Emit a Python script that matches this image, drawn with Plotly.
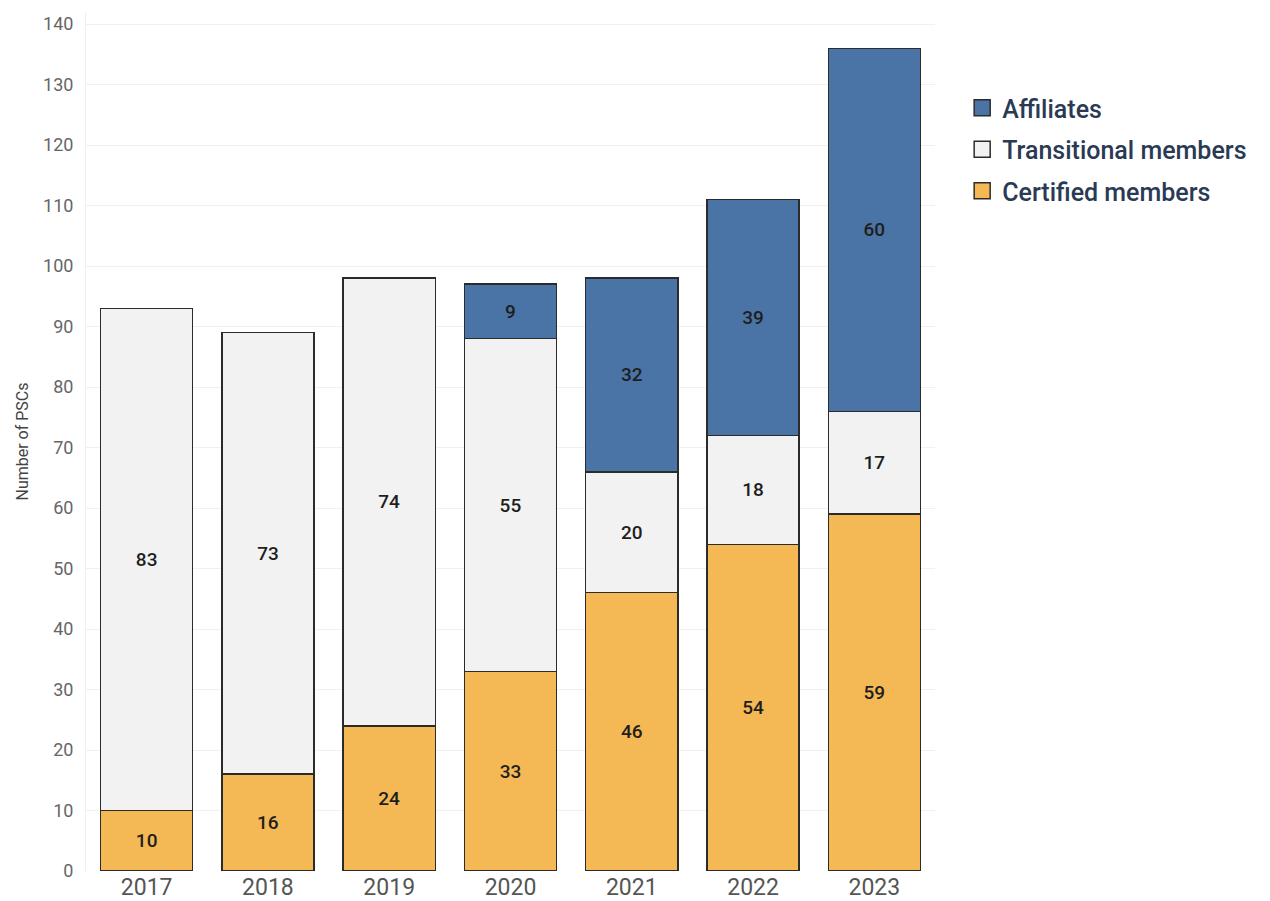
import plotly.graph_objects as go

years = ["2017", "2018", "2019", "2020", "2021", "2022", "2023"]
certified = [10, 16, 24, 33, 46, 54, 59]
transitional = [83, 73, 74, 55, 20, 18, 17]
affiliates = [0, 0, 0, 9, 32, 39, 60]
y_ticks = list(range(0, 141, 10))

FONT = "Roboto"
EDGE = "#2b2b2b"
series = [
    ("Certified members", certified, "#f4b955"),
    ("Transitional members", transitional, "#f2f2f2"),
    ("Affiliates", affiliates, "#4a74a5"),
]

fig = go.Figure()
for name, vals, color in series:
    fig.add_trace(go.Bar(
        x=years, y=vals, name=name, showlegend=False,
        marker=dict(color=color, line=dict(color=EDGE, width=1.5)),
        text=[str(v) if v else "" for v in vals],
        textposition="inside", insidetextanchor="middle", textangle=0,
        textfont=dict(family=FONT, size=19, color="#1e1e1e", weight=500),
        constraintext="none",
    ))
# legend entries with larger square swatches (top-down order)
for name, vals, color in reversed(series):
    fig.add_trace(go.Scatter(
        x=[None], y=[None], mode="markers", name=name, legendgroup=name,
        marker=dict(symbol="square", size=24, color=color, line=dict(color=EDGE, width=1.5)),
        showlegend=True,
    ))

fig.update_layout(
    barmode="stack", bargap=0.24,
    width=1262, height=893,
    paper_bgcolor="white", plot_bgcolor="white",
    margin=dict(l=78, r=335, t=4, b=30),
    font=dict(family=FONT, color="#555555"),
    legend=dict(
        x=1.032, y=0.915, xanchor="left", yanchor="top",
        traceorder="grouped",
        font=dict(family=FONT, size=25, color="#2a3a55", weight=500),
        itemwidth=30, tracegroupgap=6,
    ),
)
fig.update_xaxes(
    tickfont=dict(family=FONT, size=23, color="#555555"),
    showgrid=False, ticks="", showline=False, automargin=False,
)
fig.update_yaxes(
    range=[0, 142], tickvals=y_ticks,
    tickfont=dict(family=FONT, size=18, color="#666666"),
    gridcolor="#f0f0f0", gridwidth=1,
    showline=True, linecolor="#f0f0f0", zeroline=False,
    title=dict(text="Number of PSCs", font=dict(family=FONT, size=16, color="#444444"), standoff=10),
    ticks="outside", ticklen=8, tickcolor="rgba(0,0,0,0)", automargin=False,
)
fig.write_html("out.html")
